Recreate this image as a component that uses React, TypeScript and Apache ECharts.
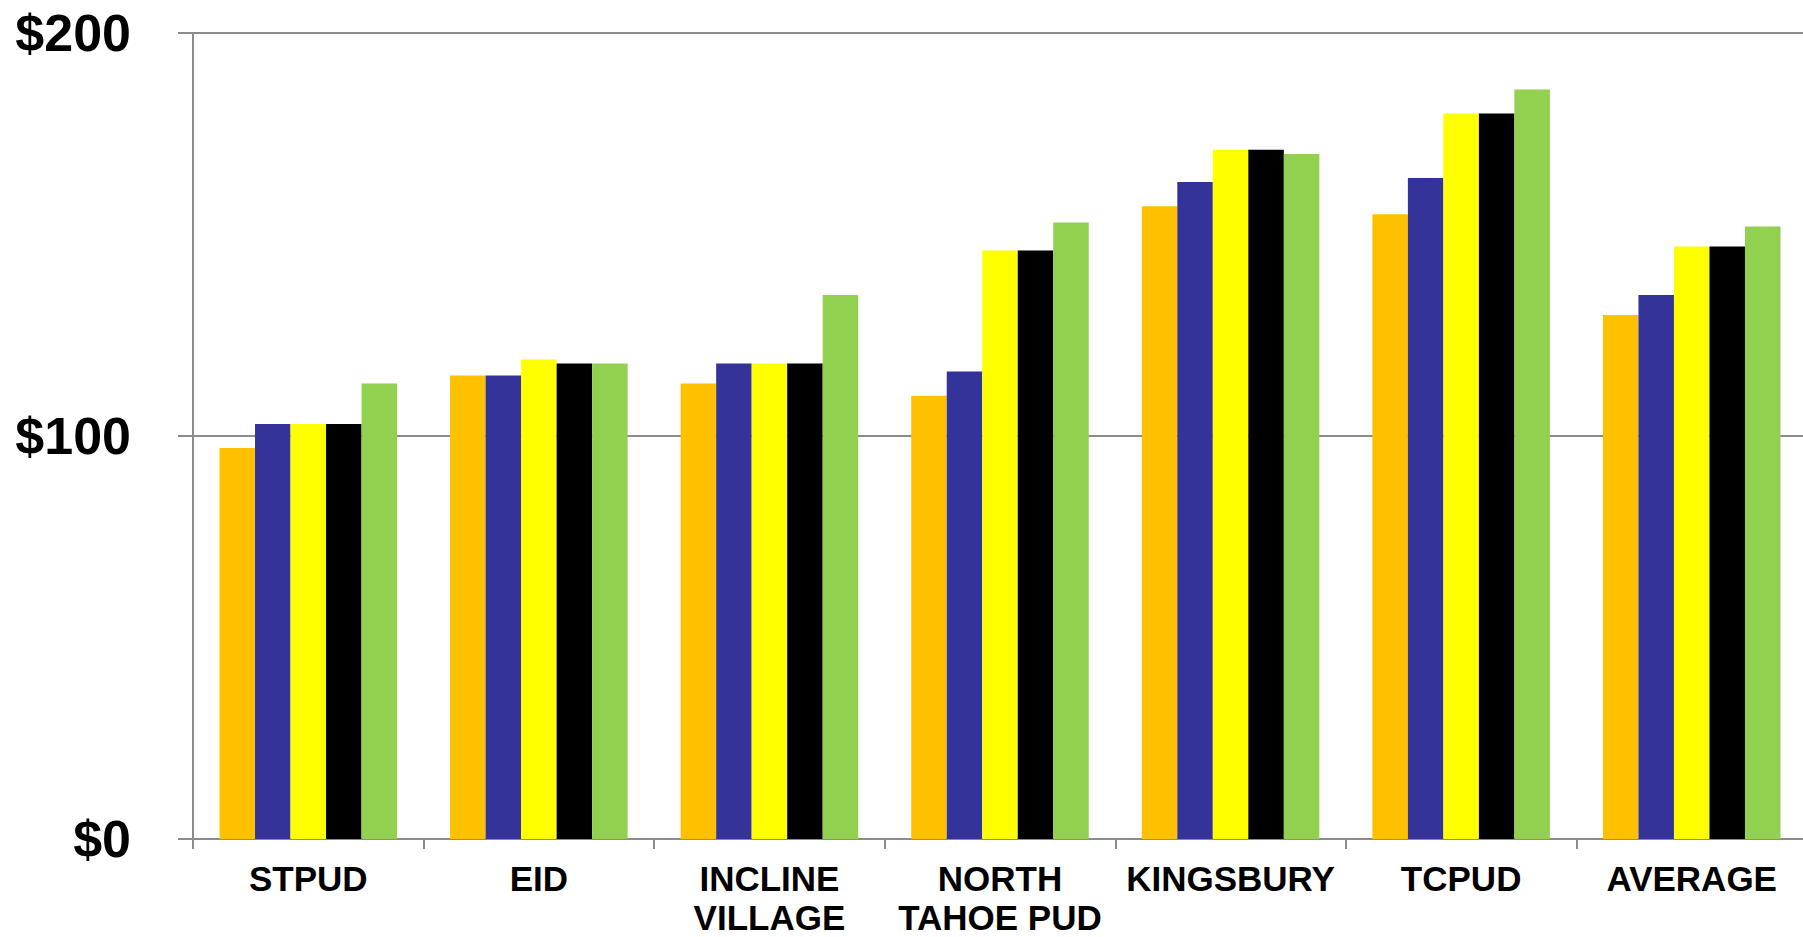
import React, { useEffect, useRef } from "react";
import * as echarts from "echarts";

const categories = ["STPUD", "EID", "INCLINE\nVILLAGE", "NORTH\nTAHOE PUD", "KINGSBURY", "TCPUD", "AVERAGE"];
const seriesA = [97, 115, 113, 110, 157, 155, 130];
const seriesB = [103, 115, 118, 116, 163, 164, 135];
const seriesC = [103, 119, 118, 146, 171, 180, 147];
const seriesD = [103, 118, 118, 146, 171, 180, 147];
const seriesE = [113, 118, 135, 153, 170, 186, 152];
const colors = ["#FFC000", "#333399", "#FFFF00", "#000000", "#92D050"];
const yTicks = { min: 0, max: 200, interval: 100 };

export default function App() {
  const ref = useRef<HTMLDivElement>(null);
  useEffect(() => {
    if (!ref.current) return;
    const chart = echarts.init(ref.current, undefined, { renderer: "svg" });
    const font = "'Liberation Sans', Arial, Helvetica, sans-serif";
    const all = [seriesA, seriesB, seriesC, seriesD, seriesE];
    chart.setOption({
      animation: false,
      backgroundColor: "#ffffff",
      grid: {
        left: 193,
        top: 33,
        bottom: 98,
        right: -4,
        containLabel: false,
        outerBoundsMode: "none",
      },
      xAxis: {
        type: "category",
        data: categories,
        boundaryGap: true,
        axisLine: { show: true, lineStyle: { color: "#8c8c8c", width: 2 } },
        axisTick: { show: true, length: 10, lineStyle: { color: "#8c8c8c", width: 2 } },
        axisLabel: {
          interval: 0,
          color: "#000",
          fontFamily: font,
          fontWeight: "bold",
          fontSize: 35,
          lineHeight: 39,
          margin: 20,
        },
      },
      yAxis: {
        type: "value",
        min: yTicks.min,
        max: yTicks.max,
        interval: yTicks.interval,
        axisLine: { show: true, lineStyle: { color: "#8c8c8c", width: 2 } },
        axisTick: { show: true, length: 15, lineStyle: { color: "#8c8c8c", width: 2 } },
        splitLine: { show: true, lineStyle: { color: "#8c8c8c", width: 2 } },
        axisLabel: {
          color: "#000",
          fontFamily: font,
          fontWeight: "bold",
          fontSize: 52,
          margin: 62,
          formatter: (v: number) => "$" + v,
        },
      },
      series: all.map((d, i) => ({
        type: "bar",
        data: d,
        barGap: "0%",
        barCategoryGap: "23%",
        itemStyle: { color: colors[i] },
      })),
    });
    return () => chart.dispose();
  }, []);
  return (
    <div
      ref={ref}
      style={{ position: "fixed", left: 0, top: 0, width: 1803, height: 937 }}
    />
  );
}
